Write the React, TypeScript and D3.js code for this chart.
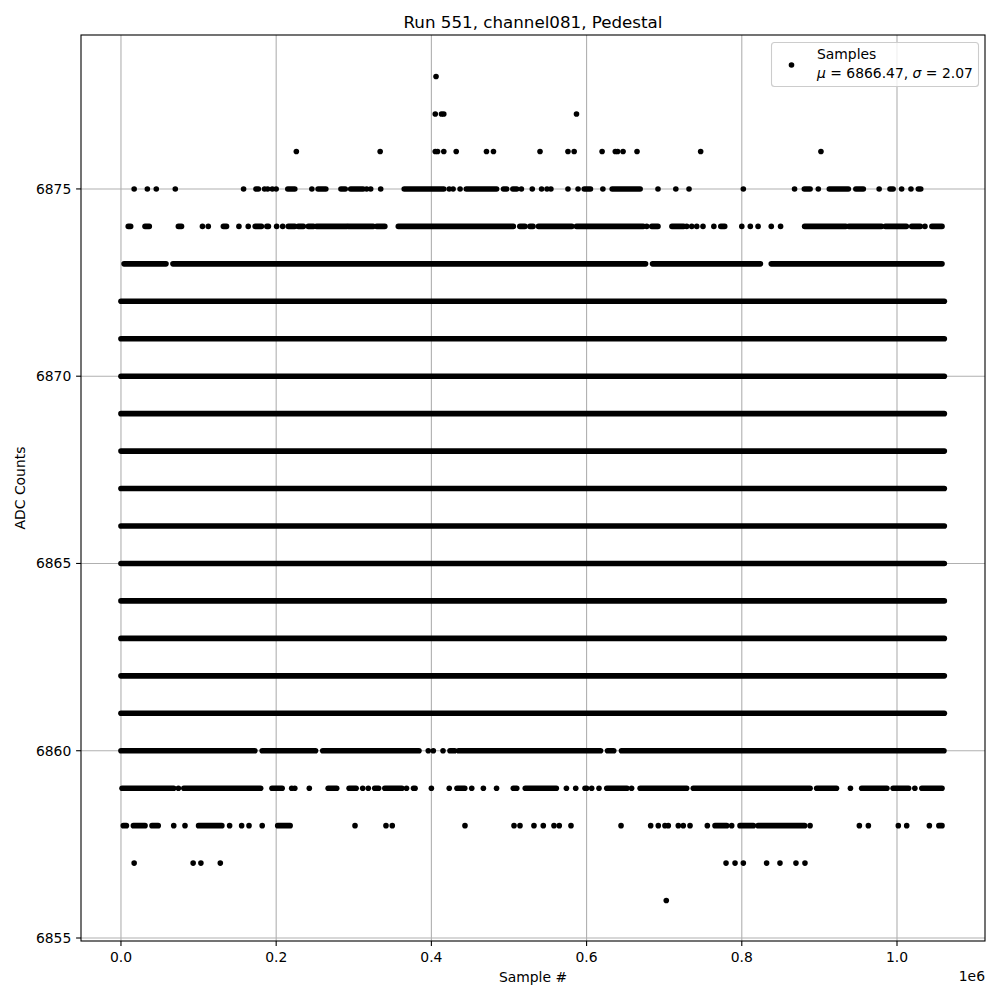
import React from "react";
import * as d3 from "d3";

// A run is either a single sample position or a [start, end] stretch of
// consecutive, overlapping samples. Positions are in thousands of samples.
type Run = number | [number, number];

const runs6878: Run[] = [406];
const runs6877: Run[] = [405, 413, 416, 587];
const runs6876: Run[] = [226, 334, 405, 408, 416, 432, 471, 480, 540, 576, 584, 620, 637, 640, 647, 665, 747, 902];
const runs6875: Run[] = [
  17, 34, 45.5, 70, 158, [174, 177], 185, 189, 195, 200, [215, 224], 246, [254, 264],
  [283.5, 289], [296, 312], 316.6, 321.8, 334.7, [365, 416], 423, 428, 437, [445, 484],
  [493, 497], [505, 510], 516, 530, 542, 549, 554, 576, 589, [597, 605], 621, [633, 669],
  692, 715, 732, 802, 868, [880.6, 888], 898.6, [912.8, 937.3], [947, 956.6], 977,
  [991, 995], 1006, 1018, [1027.5, 1030.6],
];
const runs6874: Run[] = [
  [9.4, 12.5], [31, 36.5], [74, 78], 105, 112.5, [132, 136], 152, 164, [173, 181], [188, 190],
  200.6, 208.4, [215.6, 224], [228.5, 235], [241.4, 248], [252, 291], [293, 325], [329.5, 340],
  [357.4, 505.6], [514, 520.6], [527, 531], [538, 581], [587, 673], 677.5, [684, 692],
  [710, 725], 729, 735.5, 742, 750, 764, [773, 778], 800, 811, 821, 838, 850, [881, 934],
  [938, 980], [985, 1012], [1019, 1030], 1036, [1045, 1058],
];
const runs6873: Run[] = [[4, 58], [67, 676], [685, 824], [838, 1058]];
const runs6872: Run[] = [[0, 1061]];
const runs6871: Run[] = [[0, 1061]];
const runs6870: Run[] = [[0, 1061]];
const runs6869: Run[] = [[0, 1061]];
const runs6868: Run[] = [[0, 1061]];
const runs6867: Run[] = [[0, 1061]];
const runs6866: Run[] = [[0, 1061]];
const runs6865: Run[] = [[0, 1061]];
const runs6864: Run[] = [[0, 1061]];
const runs6863: Run[] = [[0, 1061]];
const runs6862: Run[] = [[0, 1061]];
const runs6861: Run[] = [[0, 1061]];
const runs6860: Run[] = [
  [0, 172.5], [182, 250.7], [260, 384], 396, 402.5, 415, [424, 430], [435, 618], [627, 635], [645, 1060.5],
];
const runs6859: Run[] = [
  [1.4, 68], 74, [81, 180], [194.6, 207.7], 220, 224, 242.7, [267, 278], [294, 303], 311.5, 318.7,
  [327, 332], [340, 362], 368, [377, 379], 400, 423, [433, 443], 452, 467, 484, [505.6, 510],
  [521, 561], 574, 586, [598, 600], 606.6, 616, [626, 652], 658, [669, 729], [737.5, 888],
  [896.5, 922], 940, [954.5, 987], [995, 1015], 1023, [1032, 1058],
];
const runs6858: Run[] = [
  [3, 7], [16, 31], [40, 48], 68, 82.5, [100, 130], 140, 155.5, 165, 182, [202, 218], 301.6,
  341.5, 349.6, 443.3, 506.5, 514.2, 532.2, 544.2, 558, 564.8, 579.9, 644.4, 682.6, 692.4, 701,
  705.3, 718.2, 724.6, 733.3, 755.6, [765.5, 780.6], 787, [797.7, 814.9], [821, 881], 888,
  951.5, 963.1, 1001.7, 1012.5, 1041.7, [1054, 1058],
];
const runs6857: Run[] = [17, 93, 103, 128, 779.7, 791.3, 802, 832, 849.2, 869.8, 881.4];
const runs6856: Run[] = [702.7];

const adcLevels: number[] = [
  6878, 6877, 6876, 6875, 6874, 6873, 6872, 6871, 6870, 6869, 6868, 6867,
  6866, 6865, 6864, 6863, 6862, 6861, 6860, 6859, 6858, 6857, 6856,
];
const levelRuns: Run[][] = [
  runs6878, runs6877, runs6876, runs6875, runs6874, runs6873, runs6872, runs6871,
  runs6870, runs6869, runs6868, runs6867, runs6866, runs6865, runs6864, runs6863,
  runs6862, runs6861, runs6860, runs6859, runs6858, runs6857, runs6856,
];

const xTicks: number[] = [0, 200000, 400000, 600000, 800000, 1000000];
const yTicks: number[] = [6855, 6860, 6865, 6870, 6875];

const titleText = "Run 551, channel081, Pedestal";
const xLabel = "Sample #";
const yLabel = "ADC Counts";
const legendLabel = "Samples";
const muValue = "6866.47";
const sigmaValue = "2.07";

export default function App() {
  const W = 1000;
  const H = 1000;
  const left = 81;
  const right = 985;
  const top = 35;
  const bottom = 941;
  const font = "DejaVu Sans, sans-serif";
  const r = 2.8;

  const x = d3.scaleLinear().domain([-51500, 1113400]).range([left, right]);
  const y = d3.scaleLinear().domain([6854.92, 6879.11]).range([bottom, top]);

  const marks: React.ReactNode[] = [];
  adcLevels.forEach((lvl, i) => {
    const cy = y(lvl);
    levelRuns[i].forEach((run, j) => {
      if (typeof run === "number") {
        marks.push(<circle key={`${lvl}-${j}`} cx={x(run * 1000)} cy={cy} r={r} fill="#000" />);
      } else {
        marks.push(
          <line
            key={`${lvl}-${j}`}
            x1={x(run[0] * 1000)}
            x2={x(run[1] * 1000)}
            y1={cy}
            y2={cy}
            stroke="#000"
            strokeWidth={2 * r}
            strokeLinecap="round"
          />
        );
      }
    });
  });

  const tickLen = 4.9;

  return (
    <svg
      width={W}
      height={H}
      viewBox={`0 0 ${W} ${H}`}
      style={{ position: "absolute", left: 0, top: 0, background: "#fff" }}
      fontFamily={font}
    >
      <rect x={0} y={0} width={W} height={H} fill="#fff" />
      {/* grid */}
      <g stroke="#b0b0b0" strokeWidth={1.1}>
        {xTicks.map((t) => (
          <line key={`gx${t}`} x1={x(t)} x2={x(t)} y1={top} y2={bottom} />
        ))}
        {yTicks.map((t) => (
          <line key={`gy${t}`} x1={left} x2={right} y1={y(t)} y2={y(t)} />
        ))}
      </g>
      {/* data */}
      <g>{marks}</g>
      {/* spines */}
      <rect x={left} y={top} width={right - left} height={bottom - top} fill="none" stroke="#000" strokeWidth={1.1} />
      {/* x ticks */}
      <g>
        {xTicks.map((t) => (
          <g key={`tx${t}`}>
            <line x1={x(t)} x2={x(t)} y1={bottom} y2={bottom + tickLen} stroke="#000" strokeWidth={1.1} />
            <text x={x(t)} y={962} textAnchor="middle" fontSize={13.9} fill="#000">
              {(t / 1e6).toFixed(1)}
            </text>
          </g>
        ))}
      </g>
      {/* y ticks */}
      <g>
        {yTicks.map((t) => (
          <g key={`ty${t}`}>
            <line x1={left - tickLen} x2={left} y1={y(t)} y2={y(t)} stroke="#000" strokeWidth={1.1} />
            <text x={left - 9.7} y={y(t) + 5} textAnchor="end" fontSize={13.9} fill="#000">
              {t}
            </text>
          </g>
        ))}
      </g>
      <text x={right} y={981} textAnchor="end" fontSize={13.9} fill="#000">1e6</text>
      <text x={(left + right) / 2} y={982} textAnchor="middle" fontSize={13.9} fill="#000">
        {xLabel}
      </text>
      <text
        transform={`translate(25, ${(top + bottom) / 2}) rotate(-90)`}
        textAnchor="middle"
        fontSize={13.9}
        fill="#000"
      >
        {yLabel}
      </text>
      <text x={(left + right) / 2} y={28} textAnchor="middle" fontSize={16.7} fill="#000">
        {titleText}
      </text>
      {/* legend */}
      <g>
        <rect x={771.5} y={42.5} width={207} height={44} rx={3} ry={3} fill="#fff" fillOpacity={0.8} stroke="#cccccc" strokeWidth={1.1} />
        <circle cx={791.5} cy={65} r={r} fill="#000" />
        <text x={817} y={59} fontSize={13.9} fill="#000">{legendLabel}</text>
        <text x={817} y={78} fontSize={13.9} fill="#000">
          <tspan fontStyle="italic">μ</tspan>
          <tspan>{` = ${muValue}, `}</tspan>
          <tspan fontStyle="italic">σ</tspan>
          <tspan>{` = ${sigmaValue}`}</tspan>
        </text>
      </g>
    </svg>
  );
}
